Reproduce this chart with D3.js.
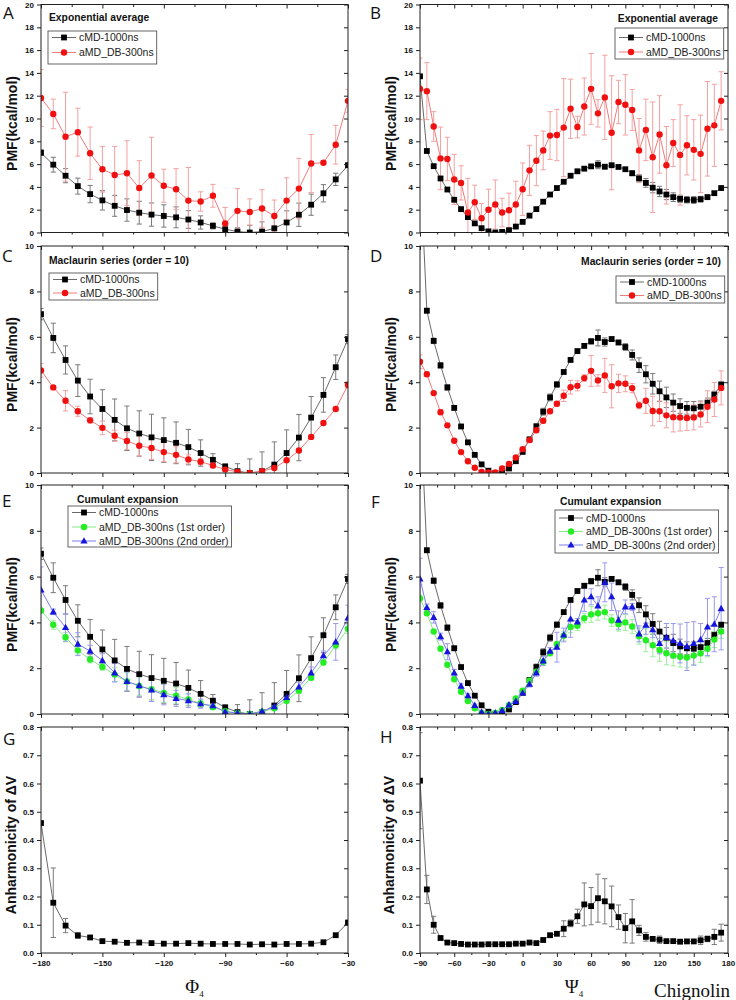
<!DOCTYPE html>
<html><head><meta charset="utf-8">
<script src="https://cdn.jsdelivr.net/npm/d3@7/dist/d3.min.js"></script>
<style>body{margin:0;background:#fff}svg{display:block}</style>
</head><body><svg id="c" width="736" height="1000"></svg>
<script>
// ---------- data ----------
const phi = [-180,-174,-168,-162,-156,-150,-144,-138,-132,-126,-120,-114,-108,-102,-96,-90,-84,-78,-72,-66,-60,-54,-48,-42,-36,-30];
const psi = [-90,-84,-78,-72,-66,-60,-54,-48,-42,-36,-30,-24,-18,-12,-6,0,6,12,18,24,30,36,42,48,54,60,66,72,78,84,90,96,102,108,114,120,126,132,138,144,150,156,162,168,174];

const phiTicks = [-180,-150,-120,-90,-60,-30];
const psiTicks = [-90,-60,-30,0,30,60,90,120,150,180];

const cmdPhi = [7.0,5.95,4.98,4.07,3.37,2.82,2.34,1.97,1.74,1.57,1.45,1.33,1.14,0.88,0.58,0.29,0.08,0.0,0.08,0.37,0.88,1.56,2.44,3.44,4.66,5.9];
const cmdPhiErr = [0.25,0.65,0.62,0.7,0.76,0.85,0.92,0.98,1.0,1.02,0.98,0.92,0.78,0.58,0.27,0.1,0.33,0.62,0.85,1.0,1.02,1.02,0.93,0.76,0.54,0.2];

const aMDexpPhi = [11.8,10.4,8.4,8.8,6.95,5.55,5.05,5.2,3.9,5.0,4.1,3.8,2.8,2.72,3.22,0.8,1.9,1.8,2.1,1.45,2.8,3.85,6.05,6.12,7.7,11.55];
const aMDexpPhiErr = [2.5,1.3,3.9,2.1,2.3,2.0,2.5,2.85,2.4,3.35,1.45,1.8,2.9,0.85,1.0,1.4,1.95,1.15,1.65,1.4,2.0,2.65,2.55,0.15,1.7,1.0];

const aMDmacPhi = [4.52,3.77,3.18,2.72,2.32,1.99,1.64,1.41,1.2,1.1,0.92,0.8,0.6,0.5,0.33,0.15,0.05,0.0,0.08,0.22,0.56,0.99,1.59,2.2,2.82,3.88];
const aMDmacPhiErr = [0.3,0.08,0.45,0.22,0.12,0.3,0.25,0.38,0.45,0.5,0.42,0.35,0.2,0.14,0.1,0.08,0.04,0.04,0.04,0.05,0.06,0.07,0.06,0.05,0.07,0.15];

const cum1Phi = [4.52,3.9,3.35,2.78,2.38,2.06,1.72,1.42,1.22,1.08,0.92,0.8,0.63,0.46,0.3,0.12,0.04,0.0,0.1,0.25,0.58,1.02,1.58,2.25,3.0,3.72];
const cum1PhiErr = [0.1,0.2,0.2,0.2,0.15,0.15,0.3,0.38,0.4,0.45,0.42,0.35,0.25,0.15,0.1,0.06,0.03,0.03,0.05,0.08,0.1,0.12,0.1,0.1,0.15,0.2];

const cum2Phi = [5.42,4.46,3.78,3.05,2.75,2.33,1.8,1.42,1.24,1.05,0.85,0.68,0.58,0.45,0.36,0.1,0.04,0.0,0.12,0.32,0.72,1.18,1.8,2.55,3.15,4.2];
const cum2PhiErr = [1.0,0.12,0.6,0.5,0.25,0.3,0.4,0.42,0.5,0.5,0.45,0.35,0.3,0.2,0.15,0.08,0.05,0.05,0.05,0.08,0.12,0.2,0.25,0.2,0.8,0.55];

const cmdPsi = [13.7,7.15,5.82,4.74,3.77,2.87,2.05,1.35,0.8,0.38,0.1,0.0,0.05,0.2,0.52,0.93,1.48,2.05,2.7,3.33,3.9,4.45,4.98,5.37,5.6,5.8,5.95,5.77,5.9,5.75,5.55,5.2,4.75,4.35,3.93,3.6,3.33,3.1,2.95,2.87,2.85,2.92,3.1,3.45,3.9];
const cmdPsiErr = [0.1,0.1,0.12,0.12,0.12,0.1,0.06,0.06,0.05,0.03,0.02,0.02,0.02,0.03,0.05,0.06,0.1,0.13,0.15,0.15,0.12,0.08,0.06,0.08,0.08,0.12,0.35,0.18,0.1,0.1,0.15,0.22,0.32,0.38,0.45,0.45,0.45,0.38,0.32,0.28,0.3,0.25,0.2,0.15,0.1];

const aMDexpPsi = [12.6,12.4,9.3,6.5,6.45,4.65,4.35,1.75,2.65,1.25,2.0,2.45,1.75,1.95,2.45,3.8,5.45,6.3,7.2,8.5,8.55,9.2,10.85,9.25,11.05,12.6,10.45,11.85,8.75,11.45,11.2,10.75,7.2,9.0,6.6,8.6,5.9,7.85,6.8,7.65,7.25,6.9,9.1,9.4,11.55];
const aMDexpPsiErr = [2.7,2.5,1.3,2.75,1.9,2.2,1.5,3.0,1.5,1.3,1.8,2.15,1.25,1.5,2.05,2.3,2.2,2.2,1.7,2.1,2.25,4.3,2.6,0.95,2.5,3.1,1.2,3.7,5.0,1.9,2.65,1.8,2.8,2.7,4.85,3.4,3.4,2.05,4.4,2.6,2.65,3.4,4.15,3.6,2.55];

const aMDmacPsi = [4.9,4.35,3.52,2.68,2.1,1.42,0.92,0.52,0.23,0.05,0.02,0.02,0.2,0.4,0.68,1.05,1.45,1.88,2.3,2.72,3.05,3.4,3.78,3.84,4.18,4.5,4.08,4.3,3.82,3.95,3.93,3.74,2.98,3.18,2.73,2.72,2.54,2.46,2.45,2.42,2.45,2.58,2.92,3.24,3.75];
const aMDmacPsiErr = [0.3,0.1,0.06,0.12,0.05,0.05,0.04,0.03,0.03,0.02,0.02,0.02,0.03,0.05,0.05,0.08,0.1,0.1,0.1,0.08,0.1,0.25,0.3,0.22,0.15,0.68,0.25,0.75,0.95,0.4,0.35,0.2,0.15,0.55,0.65,0.45,0.55,0.65,0.6,0.55,0.55,0.55,0.7,0.75,0.75];

const cum1Psi = [5.05,4.4,3.6,2.85,2.15,1.52,0.97,0.57,0.25,0.05,0.0,0.05,0.18,0.38,0.68,1.02,1.45,1.85,2.28,2.65,3.05,3.42,3.8,3.85,4.18,4.35,4.4,4.45,4.08,3.92,4.0,3.82,3.4,3.22,3.0,2.8,2.65,2.55,2.5,2.47,2.55,2.65,2.85,3.25,3.6];
const cum1PsiErr = [0.15,0.1,0.08,0.08,0.06,0.05,0.04,0.03,0.03,0.02,0.02,0.02,0.03,0.04,0.05,0.06,0.08,0.08,0.08,0.1,0.12,0.2,0.25,0.2,0.2,0.35,0.3,0.3,0.25,0.3,0.35,0.3,0.35,0.5,0.5,0.5,0.5,0.45,0.45,0.45,0.4,0.4,0.35,0.35,0.3];

const cum2Psi = [5.9,4.65,4.22,3.38,2.72,1.8,1.22,0.8,0.38,0.08,0.0,0.05,0.15,0.4,0.55,0.92,1.3,1.8,2.32,2.75,2.92,3.45,4.15,4.02,4.98,5.12,4.72,5.75,5.12,4.1,4.68,4.68,3.5,3.88,3.68,3.08,3.35,3.2,3.08,2.95,3.08,3.25,3.8,3.92,4.6];
const cum2PsiErr = [0.9,0.15,0.25,0.15,0.35,0.15,0.1,0.08,0.05,0.03,0.02,0.02,0.03,0.05,0.06,0.1,0.12,0.15,0.2,0.15,0.65,0.3,0.8,0.15,0.5,0.35,0.4,0.85,0.6,0.4,0.3,0.15,0.35,0.4,0.35,0.45,0.6,0.75,0.85,1.05,0.95,0.7,1.25,1.2,1.8];

const anhPhi = [0.46,0.178,0.097,0.062,0.055,0.042,0.04,0.036,0.037,0.035,0.033,0.033,0.035,0.033,0.032,0.032,0.032,0.03,0.031,0.03,0.032,0.032,0.033,0.038,0.063,0.108];
const anhPhiErr = [0.005,0.123,0.025,0.01,0.006,0.003,0.003,0.002,0.002,0.002,0.002,0.002,0.002,0.002,0.002,0.002,0.002,0.002,0.002,0.002,0.002,0.002,0.002,0.002,0.003,0.006];

const anhPsi = [0.61,0.225,0.1,0.053,0.037,0.035,0.032,0.03,0.03,0.03,0.031,0.031,0.031,0.031,0.033,0.033,0.037,0.035,0.046,0.063,0.068,0.086,0.105,0.13,0.172,0.166,0.194,0.183,0.165,0.127,0.088,0.112,0.08,0.057,0.05,0.047,0.042,0.042,0.04,0.041,0.041,0.045,0.05,0.057,0.072];
const anhPsiErr = [0.17,0.05,0.03,0.006,0.004,0.003,0.002,0.002,0.002,0.002,0.002,0.002,0.002,0.002,0.002,0.002,0.003,0.003,0.004,0.006,0.006,0.028,0.012,0.025,0.076,0.066,0.085,0.08,0.072,0.043,0.052,0.077,0.018,0.015,0.006,0.013,0.005,0.004,0.004,0.004,0.004,0.015,0.01,0.027,0.03];

const seriesNames = ['cMD-1000ns','aMD_DB-300ns','aMD_DB-300ns (1st order)','aMD_DB-300ns (2nd order)'];
const titles = ['Exponential average','Maclaurin series (order = 10)','Cumulant expansion'];

// ---------- styles ----------
const ST = {
  black:{shape:'square', fill:'#000', line:'#6a6a6a', err:'#7a7a7a'},
  red:{shape:'circle', fill:'#f01010', line:'#f07a7a', err:'#f4a0a0'},
  green:{shape:'circle', fill:'#22ee22', line:'#86ea86', err:'#9aee9a'},
  blue:{shape:'triangle', fill:'#1515dd', line:'#7a7aee', err:'#9a9af0'}
};
const FONT = "'Liberation Sans', Arial, sans-serif";
const svg = d3.select('#c');
const L = {x0:41, x1:348}, R = {x0:420, x1:728};
const rows = [[4.5,232.5],[246,473],[485,714],[727,953]];

const panels = [
 {letter:'A',lx:3,ly:19,col:L,row:rows[0],xs:phi,xdom:[-180,-30],major:phiTicks,ymax:20,ystep:2,
  title:titles[0],tx:49,ty:21,ta:'start',leg:{L:48,T:31,B:64,cy:[37.5,52.5]},
  series:[{y:cmdPhi,e:cmdPhiErr,s:'black',n:seriesNames[0]},{y:aMDexpPhi,e:aMDexpPhiErr,s:'red',n:seriesNames[1]}],
  ylabel:'PMF(kcal/mol)',ylx:17},
 {letter:'B',lx:370,ly:19,col:R,row:rows[0],xs:psi,xdom:[-90,180],major:psiTicks,ymax:20,ystep:2,
  title:titles[0],tx:718,ty:22,ta:'end',leg:{L:615,T:28,B:59,cy:[37.5,52]},
  series:[{y:cmdPsi,e:cmdPsiErr,s:'black',n:seriesNames[0]},{y:aMDexpPsi,e:aMDexpPsiErr,s:'red',n:seriesNames[1]}],
  ylabel:'PMF(kcal/mol)',ylx:396},
 {letter:'C',lx:2,ly:262,col:L,row:rows[1],xs:phi,xdom:[-180,-30],major:phiTicks,ymax:10,ystep:2,
  title:titles[1],tx:49,ty:263.5,ta:'start',leg:{L:49,T:273,B:300,cy:[279.5,293]},
  series:[{y:cmdPhi,e:cmdPhiErr,s:'black',n:seriesNames[0]},{y:aMDmacPhi,e:aMDmacPhiErr,s:'red',n:seriesNames[1]}],
  ylabel:'PMF(kcal/mol)',ylx:17},
 {letter:'D',lx:370,ly:262,col:R,row:rows[1],xs:psi,xdom:[-90,180],major:psiTicks,ymax:10,ystep:2,
  title:titles[1],tx:721,ty:265,ta:'end',leg:{L:616,T:276,B:303,cy:[282,295.5]},
  series:[{y:cmdPsi,e:cmdPsiErr,s:'black',n:seriesNames[0]},{y:aMDmacPsi,e:aMDmacPsiErr,s:'red',n:seriesNames[1]}],
  ylabel:'PMF(kcal/mol)',ylx:396},
 {letter:'E',lx:2,ly:507,col:L,row:rows[2],xs:phi,xdom:[-180,-30],major:phiTicks,ymax:10,ystep:2,
  title:titles[2],tx:77,ty:503,ta:'start',leg:{L:68,T:506,B:547,cy:[512.5,527,541]},
  series:[{y:cmdPhi,e:cmdPhiErr,s:'black',n:seriesNames[0]},{y:cum1Phi,e:cum1PhiErr,s:'green',n:seriesNames[2]},{y:cum2Phi,e:cum2PhiErr,s:'blue',n:seriesNames[3]}],
  ylabel:'PMF(kcal/mol)',ylx:17},
 {letter:'F',lx:371,ly:508,col:R,row:rows[2],xs:psi,xdom:[-90,180],major:psiTicks,ymax:10,ystep:2,
  title:titles[2],tx:560,ty:505,ta:'start',leg:{L:555,T:510,B:553,cy:[518,531.5,545]},
  series:[{y:cmdPsi,e:cmdPsiErr,s:'black',n:seriesNames[0]},{y:cum1Psi,e:cum1PsiErr,s:'green',n:seriesNames[2]},{y:cum2Psi,e:cum2PsiErr,s:'blue',n:seriesNames[3]}],
  ylabel:'PMF(kcal/mol)',ylx:396},
 {letter:'G',lx:3,ly:745,col:L,row:rows[3],xs:phi,xdom:[-180,-30],major:phiTicks,ymax:0.8,ystep:0.1,yfmt:'.1f',xlabels:true,
  series:[{y:anhPhi,e:anhPhiErr,s:'black'}],ylabel:'Anharmonicity of \u0394V',ylx:16,xsym:'\u03A6'},
 {letter:'H',lx:380,ly:743,col:R,row:rows[3],xs:psi,xdom:[-90,180],major:psiTicks,ymax:0.8,ystep:0.1,yfmt:'.1f',xlabels:true,
  series:[{y:anhPsi,e:anhPsiErr,s:'black'}],ylabel:'Anharmonicity of \u0394V',ylx:394,xsym:'\u03A8'}
];

function marker(sel, shape, cx, cy, fill){
  if(shape==='square') sel.append('rect').attr('x',cx-2.9).attr('y',cy-2.9).attr('width',5.8).attr('height',5.8).attr('fill',fill);
  else if(shape==='circle') sel.append('circle').attr('cx',cx).attr('cy',cy).attr('r',3.2).attr('fill',fill);
  else sel.append('path').attr('d',`M${cx},${cy-3.8}L${cx+3.6},${cy+2.6}L${cx-3.6},${cy+2.6}Z`).attr('fill',fill);
}

panels.forEach((p,pi)=>{
  const [y0,y1] = p.row;
  const x = d3.scaleLinear().domain(p.xdom).range([p.col.x0,p.col.x1]);
  const y = d3.scaleLinear().domain([0,p.ymax]).range([y1,y0]);
  const g = svg.append('g');
  const cid = 'clip'+pi;
  svg.append('defs').append('clipPath').attr('id',cid).append('rect')
    .attr('x',p.col.x0).attr('y',y0).attr('width',p.col.x1-p.col.x0).attr('height',y1-y0);
  const pg = g.append('g').attr('clip-path',`url(#${cid})`);

  p.series.forEach(s=>{
    const st = ST[s.s];
    const data = p.xs.map((xv,i)=>({x:xv,y:s.y[i],e:s.e[i]}));
    const eg = pg.append('g').attr('stroke',st.err).attr('stroke-width',1);
    data.forEach(d=>{
      const cx = x(d.x), ya = y(d.y+d.e), yb = y(Math.max(d.y-d.e, -1));
      eg.append('line').attr('x1',cx).attr('x2',cx).attr('y1',ya).attr('y2',yb);
      eg.append('line').attr('x1',cx-2.6).attr('x2',cx+2.6).attr('y1',ya).attr('y2',ya);
      eg.append('line').attr('x1',cx-2.6).attr('x2',cx+2.6).attr('y1',yb).attr('y2',yb);
    });
  });
  p.series.forEach(s=>{
    const st = ST[s.s];
    const data = p.xs.map((xv,i)=>({x:xv,y:s.y[i]}));
    pg.append('path').datum(data).attr('fill','none').attr('stroke',st.line).attr('stroke-width',1)
      .attr('d',d3.line().x(d=>x(d.x)).y(d=>y(d.y)));
    const mg = pg.append('g');
    data.forEach(d=>marker(mg,st.shape,x(d.x),y(d.y),st.fill));
  });

  // frame
  g.append('rect').attr('x',p.col.x0).attr('y',y0).attr('width',p.col.x1-p.col.x0).attr('height',y1-y0)
    .attr('fill','none').attr('stroke','#222').attr('stroke-width',1);

  const yt = d3.range(0, p.ymax+1e-9, p.ystep);
  const minor = d3.range(p.xdom[0]+15, p.xdom[1], 30);
  const fmt = p.yfmt ? d3.format(p.yfmt) : d3.format('d');
  const styleAxis = a => { a.select('.domain').remove(); a.selectAll('line').attr('stroke','#222');
    a.selectAll('text').attr('font-family',FONT).attr('font-weight','bold').attr('font-size','8px').attr('fill','#111'); };

  g.append('g').attr('transform',`translate(${p.col.x0},0)`).call(d3.axisLeft(y).tickValues(yt).tickSize(4).tickPadding(3).tickFormat(fmt)).call(styleAxis);
  g.append('g').attr('transform',`translate(${p.col.x1},0)`).call(d3.axisRight(y).tickValues(yt).tickSize(-4).tickFormat('')).call(styleAxis);
  g.append('g').attr('transform',`translate(0,${y1})`).call(d3.axisBottom(x).tickValues(p.major).tickSize(4).tickPadding(3).tickFormat(p.xlabels? d3.format('d') : '')).call(styleAxis);
  g.append('g').attr('transform',`translate(0,${y1})`).call(d3.axisBottom(x).tickValues(minor).tickSize(2).tickFormat('')).call(styleAxis);
  g.append('g').attr('transform',`translate(0,${y0})`).call(d3.axisTop(x).tickValues(p.major).tickSize(-4).tickFormat('')).call(styleAxis);
  g.append('g').attr('transform',`translate(0,${y0})`).call(d3.axisTop(x).tickValues(minor).tickSize(-2.5).tickFormat('')).call(styleAxis);

  // panel letter
  svg.append('text').attr('x',p.lx).attr('y',p.ly).text(p.letter)
    .attr('font-family',"'Open Sans', 'Liberation Sans', sans-serif").attr('font-size','17px').attr('fill','#111');

  // y label
  const cyl = (y0+y1)/2 + 5;
  svg.append('text').attr('transform',`translate(${p.ylx},${cyl}) rotate(-90)`).attr('text-anchor','middle')
    .attr('font-family',FONT).attr('font-weight','bold').attr('font-size','14px').attr('fill','#111').text(p.ylabel);

  // title
  if(p.title){
    svg.append('text').attr('x',p.tx).attr('y',p.ty).attr('text-anchor',p.ta).text(p.title)
      .attr('font-family',FONT).attr('font-weight','bold').attr('font-size','10.3px').attr('fill','#111');
  }
  // legend
  if(p.leg){
    const lg = svg.append('g');
    const box = lg.append('rect').attr('fill','#fff').attr('stroke','#555').attr('stroke-width',0.9);
    let maxW = 0;
    p.series.forEach((s,i)=>{
      const st = ST[s.s], cy = p.leg.cy[i], Lx = p.leg.L;
      lg.append('line').attr('x1',Lx+4).attr('x2',Lx+28).attr('y1',cy).attr('y2',cy).attr('stroke',st.line).attr('stroke-width',1);
      marker(lg,st.shape,Lx+16,cy,st.fill);
      const t = lg.append('text').attr('x',Lx+31).attr('y',cy+3.8).text(s.n)
        .attr('font-family',FONT).attr('font-size','10.5px').attr('fill','#222');
      maxW = Math.max(maxW, t.node().getComputedTextLength());
    });
    box.attr('x',p.leg.L).attr('y',p.leg.T).attr('width',31+maxW+3).attr('height',p.leg.B-p.leg.T);
    box.lower();
  }
  // x title
  if(p.xsym){
    const t = svg.append('text').attr('x',(p.col.x0+p.col.x1)/2).attr('y',993).attr('text-anchor','middle')
      .attr('font-family',"'Liberation Serif', 'DejaVu Serif', serif").attr('font-size','19px').attr('fill','#111');
    t.append('tspan').text(p.xsym);
    t.append('tspan').text('4').attr('font-size','9px').attr('dy',4);
  }
});

svg.append('text').attr('x',654).attr('y',997).text('Chignolin')
  .attr('font-family',"'Liberation Serif', 'Times New Roman', serif").attr('font-size','19px').attr('fill','#111');
</script>
</body></html>
